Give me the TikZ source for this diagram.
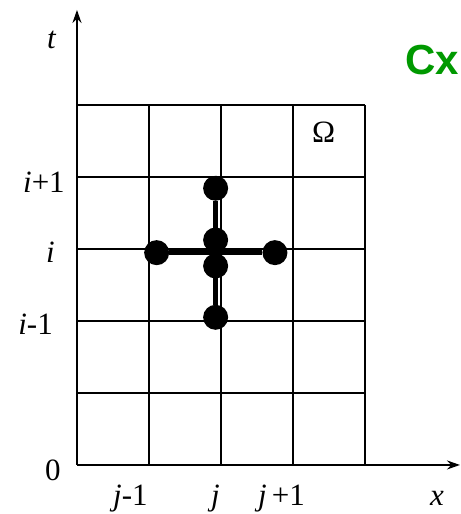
\documentclass[tikz,border=0pt]{standalone}
\usepackage{fontspec}
\setmainfont{Liberation Serif}
\newfontfamily\labelsans{Liberation Sans}
\usetikzlibrary{arrows.meta}
\definecolor{cxgreen}{RGB}{0,153,0}
\tikzset{
  dot/.style={circle,fill=black,inner sep=0pt,minimum size=25pt},
  lab/.style={anchor=base west,inner sep=0pt,font=\fontsize{31}{36}\selectfont},
  axis/.style={line width=1.8pt,-{Stealth[length=13pt,width=9pt]}}
}
\begin{document}
\begin{tikzpicture}[x=72pt,y=72pt]
\useasboundingbox (-1.069,-0.681) rectangle (5.333,6.458);
\draw[line width=1.8pt,step=72pt] (0,0) grid (4,5);
\draw[axis] (0,0)--(0,6.32);
\draw[axis] (0,0)--(5.32,0);
% stencil
\node[dot] (up) at (1.926,3.843) {};
\node[dot] (cu) at (1.926,3.125) {};
\node[dot] (lf) at (1.107,2.949) {};
\node[dot] (rt) at (2.75,2.949) {};
\node[dot] (cl) at (1.926,2.764) {};
\node[dot] (dn) at (1.926,2.051) {};
\draw[line width=5pt] (lf)--(rt);
\draw[line width=5pt] (up)--(dn);
% labels
\node[lab] (tl) at (-0.417,5.79) {\itshape t};
\node[lab] (xl) at (4.903,-0.556) {\itshape x};
\node[lab] (zl) at (-0.444,-0.222) {0};
\node[lab,anchor=base east] (ip) at (-0.167,3.79) {{\itshape i}+1};
\node[lab,anchor=base east] (ii) at (-0.306,2.806) {\itshape i};
\node[lab,anchor=base east] (im) at (-0.333,1.806) {{\itshape i}-1};
\node[lab] (jm) at (0.5,-0.556) {{\itshape j}-1};
\node[lab] (jj) at (1.861,-0.556) {\itshape j};
\node[lab] (jp) at (2.514,-0.556) {{\itshape j}\kern5pt+1};
\node[lab] (om) at (3.264,4.472) {Ω};
\node[anchor=base west,inner sep=0pt,text=cxgreen,font=\labelsans\bfseries\fontsize{42}{48}\selectfont] (cx) at (4.556,5.417) {Cx};
\end{tikzpicture}
\end{document}
